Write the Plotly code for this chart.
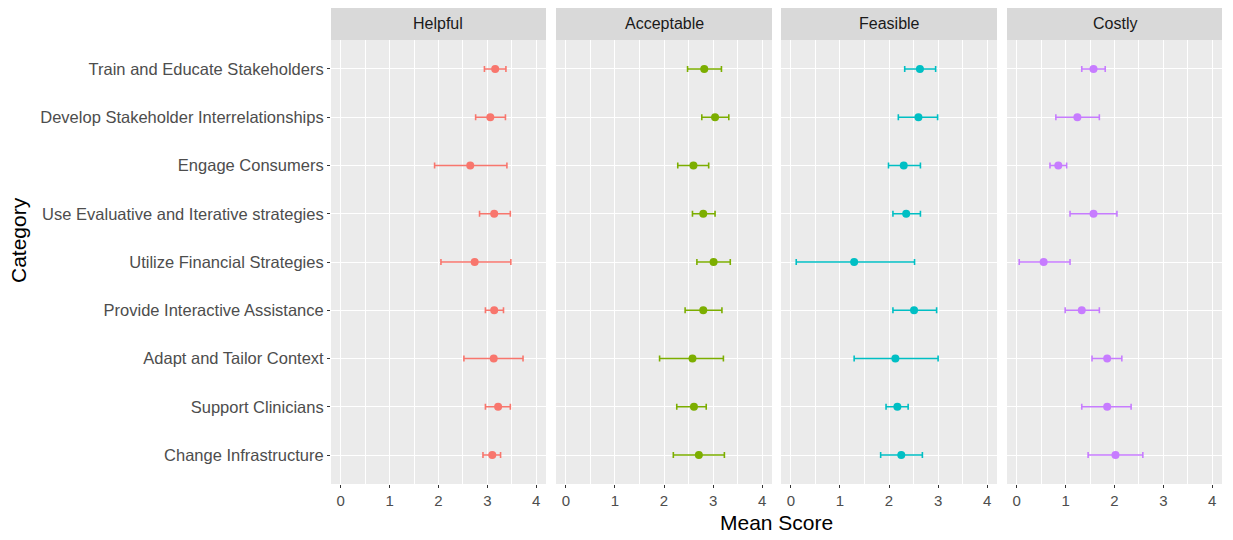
import plotly.graph_objects as go

categories = [
    "Train and Educate Stakeholders",
    "Develop Stakeholder Interrelationships",
    "Engage Consumers",
    "Use Evaluative and Iterative strategies",
    "Utilize Financial Strategies",
    "Provide Interactive Assistance",
    "Adapt and Tailor Context",
    "Support Clinicians",
    "Change Infrastructure",
]
facets = ["Helpful", "Acceptable", "Feasible", "Costly"]
colors = ["#F8766D", "#7CAE00", "#00BFC4", "#C77CFF"]

helpful_mean = [3.16, 3.06, 2.65, 3.14, 2.74, 3.14, 3.13, 3.22, 3.10]
helpful_lo = [2.94, 2.76, 1.92, 2.84, 2.05, 2.96, 2.52, 2.96, 2.91]
helpful_hi = [3.38, 3.37, 3.40, 3.47, 3.48, 3.33, 3.73, 3.47, 3.27]

acceptable_mean = [2.82, 3.04, 2.60, 2.80, 3.01, 2.80, 2.58, 2.61, 2.71]
acceptable_lo = [2.48, 2.77, 2.28, 2.58, 2.67, 2.43, 1.91, 2.26, 2.19]
acceptable_hi = [3.17, 3.32, 2.91, 3.04, 3.35, 3.18, 3.21, 2.86, 3.23]

feasible_mean = [2.63, 2.60, 2.30, 2.35, 1.29, 2.51, 2.13, 2.17, 2.25]
feasible_lo = [2.32, 2.19, 1.99, 2.08, 0.11, 2.08, 1.29, 1.94, 1.83]
feasible_hi = [2.95, 2.99, 2.64, 2.64, 2.52, 2.97, 3.00, 2.39, 2.68]

costly_mean = [1.57, 1.24, 0.85, 1.57, 0.55, 1.33, 1.85, 1.85, 2.02]
costly_lo = [1.33, 0.80, 0.68, 1.09, 0.05, 0.99, 1.54, 1.33, 1.46]
costly_hi = [1.81, 1.69, 1.02, 2.05, 1.09, 1.69, 2.15, 2.34, 2.58]

x_ticks = [0, 1, 2, 3, 4]

means = [helpful_mean, acceptable_mean, feasible_mean, costly_mean]
los = [helpful_lo, acceptable_lo, feasible_lo, costly_lo]
his = [helpful_hi, acceptable_hi, feasible_hi, costly_hi]

W, H = 1233, 540
panels_px = [(331, 546), (556, 772), (781, 997), (1007, 1222)]
panel_top, panel_bot = 40, 484
strip_top = 8

FONT = "Liberation Sans, Arial, sans-serif"

fig = go.Figure()
layout = dict(
    width=W, height=H,
    margin=dict(l=0, r=0, t=0, b=0),
    paper_bgcolor="white",
    plot_bgcolor="#EBEBEB",
    showlegend=False,
    font=dict(family=FONT, color="#4D4D4D"),
)

ydom = [(H - panel_bot) / H, (H - panel_top) / H]
shapes = []
annotations = []

for i, name in enumerate(facets):
    n = "" if i == 0 else str(i + 1)
    xa = "x" + n
    ya = "y" + n
    m = means[i]
    fig.add_trace(go.Scatter(
        x=m, y=categories, xaxis=xa, yaxis=ya, mode="markers",
        marker=dict(color=colors[i], size=8),
        error_x=dict(type="data", symmetric=False,
                     array=[h - v for h, v in zip(his[i], m)],
                     arrayminus=[v - l for v, l in zip(m, los[i])],
                     color=colors[i], thickness=1.6, width=3),
        hoverinfo="x+y",
    ))
    x0, x1 = panels_px[i]
    layout["xaxis" + n] = dict(
        domain=[x0 / W, x1 / W], anchor=ya, range=[-0.2, 4.2],
        tickvals=x_ticks, ticktext=[str(t) for t in x_ticks],
        showgrid=True, gridcolor="white", gridwidth=1.1,
        minor=dict(tickvals=[0.5, 1.5, 2.5, 3.5], showgrid=True,
                   gridcolor="white", gridwidth=0.5, ticks=""),
        zeroline=False, showline=False,
        ticks="outside", ticklen=3, tickcolor="#333333", tickwidth=1,
        tickfont=dict(size=15, color="#4D4D4D", family=FONT),
    )
    layout["yaxis" + n] = dict(
        domain=ydom, anchor=xa, type="category",
        categoryorder="array", categoryarray=categories,
        range=[8.6, -0.6],
        showgrid=True, gridcolor="white", gridwidth=1.1,
        zeroline=False, showline=False,
        ticks="outside" if i == 0 else "", ticklen=3, tickcolor="#333333",
        showticklabels=(i == 0),
        tickfont=dict(size=16.5, color="#4D4D4D", family=FONT),
    )
    shapes.append(dict(type="rect", xref="paper", yref="paper",
                       x0=x0 / W, x1=x1 / W,
                       y0=(H - panel_top) / H, y1=(H - strip_top) / H,
                       fillcolor="#D9D9D9", line=dict(width=0), layer="below"))
    annotations.append(dict(text=name, xref="paper", yref="paper",
                            x=(x0 + x1) / 2 / W, y=(H - (panel_top + strip_top) / 2) / H,
                            showarrow=False, xanchor="center", yanchor="middle",
                            font=dict(size=16, color="#1A1A1A", family=FONT)))

annotations.append(dict(text="Mean Score", xref="paper", yref="paper",
                        x=776 / W, y=(H - 522) / H, showarrow=False,
                        xanchor="center", yanchor="middle",
                        font=dict(size=21, color="#000000", family=FONT)))
annotations.append(dict(text="Category", xref="paper", yref="paper",
                        x=18 / W, y=(H - 240) / H, showarrow=False, textangle=-90,
                        xanchor="center", yanchor="middle",
                        font=dict(size=21, color="#000000", family=FONT)))

layout["shapes"] = shapes
layout["annotations"] = annotations
fig.update_layout(**layout)
fig.write_html("out.html", config={"displayModeBar": False},
               post_script="document.body.style.margin='0';")
